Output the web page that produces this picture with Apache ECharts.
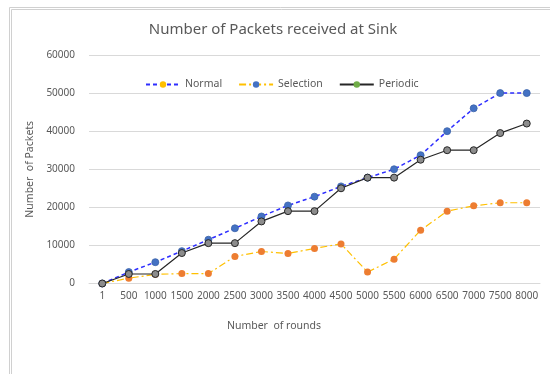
<!DOCTYPE html>
<html>
<head>
<meta charset="utf-8">
<script src="https://cdn.jsdelivr.net/npm/echarts@6/dist/echarts.min.js"></script>
<style>html,body{margin:0;padding:0;background:#fff;}#c{width:550px;height:374px;}</style>
</head>
<body>
<div id="c"></div>
<script>
const categories = ['1','500','1000','1500','2000','2500','3000','3500','4000','4500','5000','5500','6000','6500','7000','7500','8000'];
const normal = [0,3000,5600,8500,11500,14500,17600,20500,22800,25500,27800,30000,33700,40000,46000,50000,50000];
const selection = [0,1400,2400,2600,2600,7100,8400,7900,9200,10400,3000,6400,14000,19000,20400,21200,21200];
const periodic = [0,2500,2500,8000,10600,10600,16300,19000,19000,25000,27800,27800,32500,35000,35000,39500,42000];
const yTicks = [0,10000,20000,30000,40000,50000,60000];

const font = 'Noto Sans';
const chart = echarts.init(document.getElementById('c'));
chart.setOption({
  animation: false,
  backgroundColor: '#fff',
  textStyle: { fontFamily: font },
  title: {
    text: 'Number of Packets received at Sink',
    left: 268, top: 17, textAlign: 'center',
    textStyle: { fontFamily: font, fontSize: 15, fontWeight: 'normal', color: '#595959' }
  },
  graphic: [
    { type: 'line', shape: { x1: 9.5, y1: 7.5, x2: 560, y2: 7.5 }, style: { stroke: '#d0d0d0', lineWidth: 1 } },
    { type: 'line', shape: { x1: 11.5, y1: 9.5, x2: 560, y2: 9.5 }, style: { stroke: '#d0d0d0', lineWidth: 1 } },
    { type: 'line', shape: { x1: 9.5, y1: 7.5, x2: 9.5, y2: 380 }, style: { stroke: '#d0d0d0', lineWidth: 1 } },
    { type: 'line', shape: { x1: 11.5, y1: 9.5, x2: 11.5, y2: 380 }, style: { stroke: '#d0d0d0', lineWidth: 1 } }
  ],
  legend: {
    left: 140, top: 74,
    itemWidth: 34, itemHeight: 8, itemGap: 16,
    textStyle: { fontFamily: font, fontSize: 10.5, color: '#595959' },
    data: [
      { name: 'Normal', itemStyle: { color: '#FFC000', borderWidth: 0 } },
      { name: 'Selection', itemStyle: { color: '#4472C4', borderWidth: 0 } },
      { name: 'Periodic', itemStyle: { color: '#70AD47', borderWidth: 0 } }
    ]
  },
  grid: { left: 89, right: 10, top: 55, bottom: 90.5, containLabel: false },
  xAxis: {
    type: 'category', data: categories, boundaryGap: true,
    axisLine: { lineStyle: { color: '#d9d9d9' } },
    axisTick: { show: false },
    axisLabel: { interval: 0, fontFamily: font, fontSize: 10, color: '#595959', margin: 8 },
    name: 'Number  of rounds', nameLocation: 'middle', nameGap: 37,
    nameTextStyle: { fontFamily: font, fontSize: 10.5, color: '#595959', padding: [0, 81, 0, 0] }
  },
  yAxis: {
    type: 'value', min: yTicks[0], max: yTicks[yTicks.length - 1], interval: 10000,
    axisLine: { show: false }, axisTick: { show: false },
    splitLine: { lineStyle: { color: '#d9d9d9' } },
    axisLabel: { fontFamily: font, fontSize: 10, color: '#595959', margin: 14, formatter: v => String(v) },
    name: 'Number  of Packets', nameLocation: 'middle', nameGap: 44,
    nameTextStyle: { fontFamily: font, fontSize: 10.5, color: '#595959' }
  },
  series: [
    {
      name: 'Normal', type: 'line', data: normal, symbol: 'circle', symbolSize: 7,
      lineStyle: { color: '#2e2eff', width: 1.5, type: [4, 3] },
      itemStyle: { color: '#4472C4', borderColor: '#3a62a8', borderWidth: 0.8 }, z: 3
    },
    {
      name: 'Selection', type: 'line', data: selection, symbol: 'circle', symbolSize: 7,
      lineStyle: { color: '#FFC000', width: 1.2, type: [7, 3, 2, 3] },
      itemStyle: { color: '#ED7D31', borderColor: '#ED7D31', borderWidth: 0 }, z: 2
    },
    {
      name: 'Periodic', type: 'line', data: periodic, symbol: 'circle', symbolSize: 7,
      lineStyle: { color: '#262626', width: 1.2 },
      itemStyle: { color: '#8c8c8c', borderColor: '#262626', borderWidth: 1 }, z: 4
    }
  ]
});
</script>
</body>
</html>
